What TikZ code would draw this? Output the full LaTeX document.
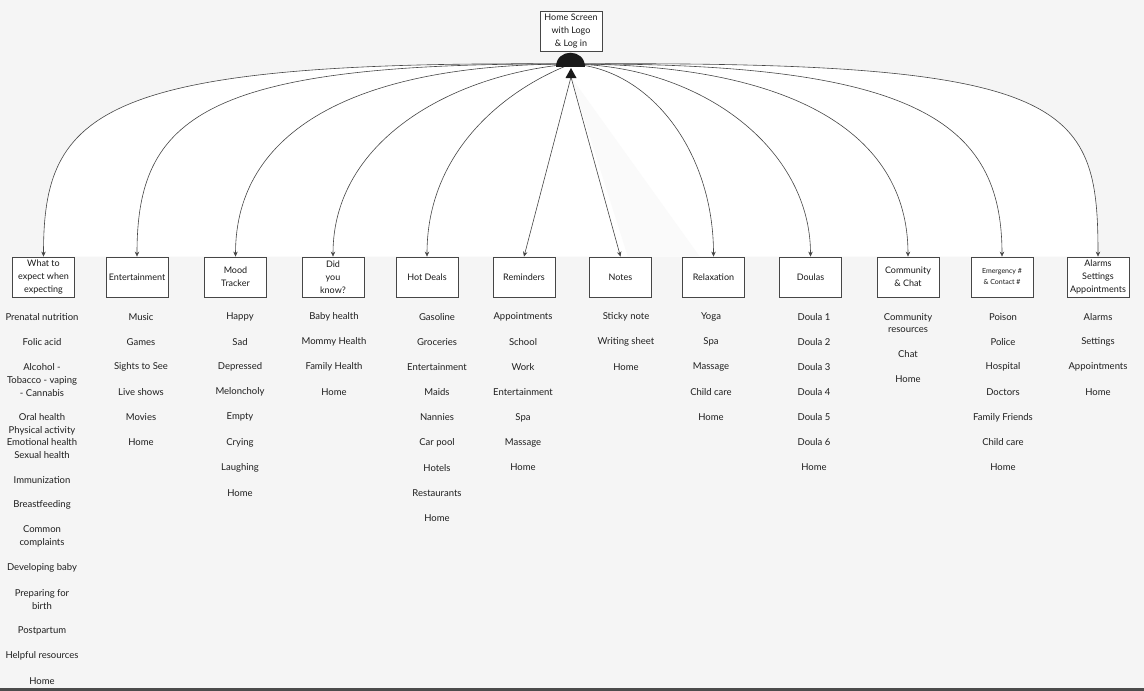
\documentclass[tikz,border=0pt]{standalone}
\usepackage{fontspec}
\setmainfont{Lato}
\usetikzlibrary{arrows.meta,backgrounds}
\definecolor{bggray}{RGB}{245,245,245}
\definecolor{inkgray}{RGB}{70,70,70}
\tikzset{
  menubox/.style={draw=inkgray, line width=0.8pt, fill=white, minimum width=62pt, minimum height=40pt, inner sep=0.5pt, align=center, font=\fontsize{9}{12.8}\selectfont, text=black!90},
  item/.style={align=center, inner sep=0pt, font=\fontsize{9.5}{12.6}\selectfont, text=black!88},
  link/.style={draw=inkgray, line width=0.6pt, -{Stealth[length=5pt,width=4.5pt]}}
}
\begin{document}
\begin{tikzpicture}[x=1pt,y=-1pt]
        \useasboundingbox (0,0) rectangle (1144,691);
        \node[menubox] (home) at (571,31) {Home Screen\\with Logo\\\& Log in};
        \node[menubox] (expect) at (43.5,277) {What to\\expect when\\expecting};
        \node[menubox] (ent) at (137,277) {Entertainment};
        \node[menubox] (mood) at (235.5,277) {Mood\\Tracker};
        \node[menubox] (did) at (333,277) {Did\\you\\know?};
        \node[menubox] (hot) at (427,277) {Hot Deals};
        \node[menubox] (remind) at (524,277) {Reminders};
        \node[menubox] (notes) at (620.5,277) {Notes};
        \node[menubox] (relax) at (713.5,277) {Relaxation};
        \node[menubox] (doulas) at (810.5,277) {Doulas};
        \node[menubox] (comm) at (908,277) {Community\\\& Chat};
        \node[menubox, font=\fontsize{7}{11}\selectfont] (emerg) at (1002,277) {Emergency \#\\\& Contact \#};
        \node[menubox] (alarms) at (1098,277) {Alarms\\Settings\\Appointments};
        \coordinate (hub) at (571,64);
        \coordinate (tip) at (571,77);
        \begin{scope}[on background layer]
                \fill[bggray] (0,0) rectangle (1144,691);
                \fill[white] (hub) .. controls +(-475,-4) and +(0,-145) .. (expect.north)
                        -- (alarms.north) .. controls +(0,-154) and +(500,-4) .. (hub) -- cycle;
                \fill[bggray!45] (tip) -- (628,257) -- (700,257) -- cycle;
                \fill[black!70] (0,688) rectangle (1144,691);
        \end{scope}
        \foreach \b/\h/\s/\v in {expect/-475/-4/145, ent/-369/-2/139, mood/-218/0/125, did/-119/10/116, hot/-65/25/106,
                relax/78/4/106, doulas/132/2/107, comm/219/0/125, emerg/345/-2/135, alarms/500/-4/154} {
                \draw[link] (hub) .. controls +(\h,\s) and +(0,-\v) .. (\b.north);
            }
        \draw[link] (tip) -- (remind.north);
        \draw[link] (tip) -- (notes.north);
        \fill[black!90] (556,67) .. controls (556,47.5) and (585,47.5) .. (585,67) -- cycle;
        \fill[black!90] (571,68) -- (576.5,78) -- (565.5,78) -- cycle;
        \foreach \t/\y [count=\k] in {Prenatal nutrition/317, Folic acid/342, {Alcohol -\\Tobacco - vaping\\- Cannabis}/380,
                {Oral health\\Physical activity\\Emotional health\\Sexual health}/436, Immunization/480, Breastfeeding/505,
                {Common\\complaints}/536.5, Developing baby/568, {Preparing for\\birth}/599.5, Postpartum/631,
                Helpful resources/656, Home/681} {
                \node[item] (expect-\k) at (42,\y) {\t};
            }
        \foreach \t [count=\k] in {Music, Games, Sights to See, Live shows, Movies, Home} {
                \node[item] (ent-\k) at (141,{291.9+25.1*\k}) {\t};
            }
        \foreach \t [count=\k] in {Happy, Sad, Depressed, Meloncholy, Empty, Crying, Laughing, Home} {
                \node[item] (mood-\k) at (240,{291.9+25.1*\k}) {\t};
            }
        \foreach \t [count=\k] in {Baby health, Mommy Health, Family Health, Home} {
                \node[item] (did-\k) at (334,{291.9+25.1*\k}) {\t};
            }
        \foreach \t [count=\k] in {Gasoline, Groceries, Entertainment, Maids, Nannies, Car pool, Hotels, Restaurants, Home} {
                \node[item] (hot-\k) at (437,{291.9+25.1*\k}) {\t};
            }
        \foreach \t [count=\k] in {Appointments, School, Work, Entertainment, Spa, Massage, Home} {
                \node[item] (remind-\k) at (523,{291.9+25.1*\k}) {\t};
            }
        \foreach \t [count=\k] in {Sticky note, Writing sheet, Home} {
                \node[item] (notes-\k) at (626,{291.9+25.1*\k}) {\t};
            }
        \foreach \t [count=\k] in {Yoga, Spa, Massage, Child care, Home} {
                \node[item] (relax-\k) at (711,{291.9+25.1*\k}) {\t};
            }
        \foreach \t [count=\k] in {Doula 1, Doula 2, Doula 3, Doula 4, Doula 5, Doula 6, Home} {
                \node[item] (doulas-\k) at (814,{291.9+25.1*\k}) {\t};
            }
        \foreach \t/\y [count=\k] in {{Community\\resources}/323, Chat/354, Home/379} {
                \node[item] (comm-\k) at (908,\y) {\t};
            }
        \foreach \t [count=\k] in {Poison, Police, Hospital, Doctors, Family Friends, Child care, Home} {
                \node[item] (emerg-\k) at (1003,{291.9+25.1*\k}) {\t};
            }
        \foreach \t [count=\k] in {Alarms, Settings, Appointments, Home} {
                \node[item] (alarms-\k) at (1098,{291.9+25.1*\k}) {\t};
            }
    \end{tikzpicture}
\end{document}
